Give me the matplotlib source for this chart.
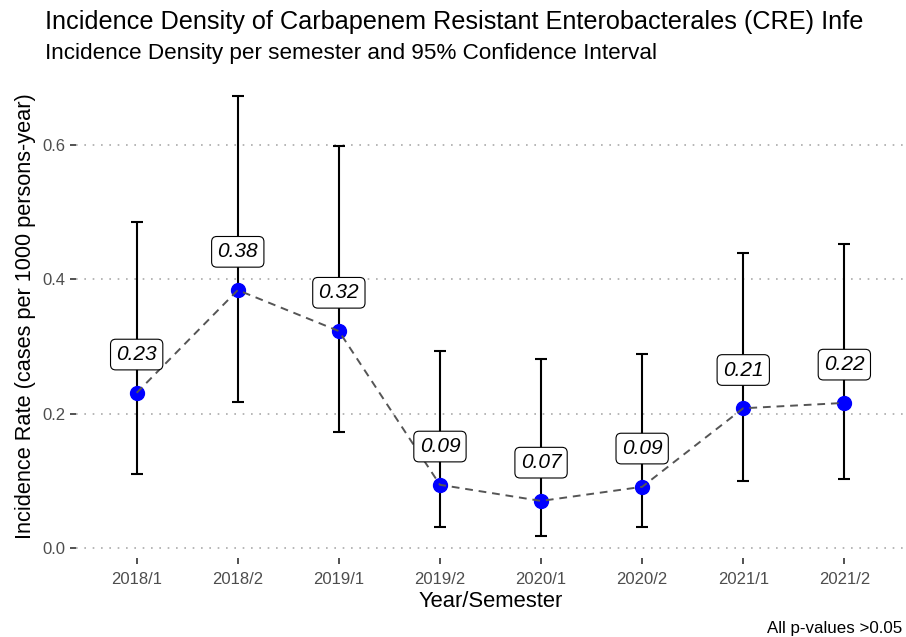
import matplotlib.pyplot as plt
import numpy as np

plt.rcParams['font.family'] = ['Liberation Sans', 'DejaVu Sans']

semesters = ['2018/1', '2018/2', '2019/1', '2019/2', '2020/1', '2020/2', '2021/1', '2021/2']
rate = [0.231, 0.384, 0.323, 0.094, 0.070, 0.091, 0.208, 0.216]
ci_low = [0.110, 0.217, 0.173, 0.031, 0.018, 0.031, 0.100, 0.103]
ci_high = [0.485, 0.673, 0.598, 0.293, 0.281, 0.289, 0.439, 0.453]
labels = ['0.23', '0.38', '0.32', '0.09', '0.07', '0.09', '0.21', '0.22']

x = np.arange(len(semesters))
rate = np.array(rate)
lo = rate - np.array(ci_low)
hi = np.array(ci_high) - rate

fig = plt.figure(figsize=(9.06, 6.37), dpi=100)
ax = fig.add_axes([0.0839, 0.124, 0.915, 0.760])

ax.errorbar(x, rate, yerr=[lo, hi], fmt='none', ecolor='black', elinewidth=1.5,
            capsize=4, capthick=1.5, zorder=2)
ax.scatter(x, rate, s=100, color='#0000FF', zorder=3)
ax.plot(x, rate, linestyle=(0, (4, 3)), color='#555555', linewidth=1.4, zorder=4)

for xi, yi, lab in zip(x, rate, labels):
    ax.text(xi, yi + 0.057, lab, ha='center', va='center', fontsize=15, style='italic',
            zorder=5, bbox=dict(boxstyle='round,pad=0.28,rounding_size=0.25',
                                fc='white', ec='black', lw=0.8))

ax.set_xlim(-0.6, len(semesters) - 0.4)
ax.set_ylim(-0.015, 0.706)
ax.set_xticks(x)
ax.set_xticklabels(semesters)
ax.set_yticks([0.0, 0.2, 0.4, 0.6])
ax.set_yticklabels(['0.0', '0.2', '0.4', '0.6'])
ax.tick_params(axis='both', colors='#333333', labelcolor='#4D4D4D', labelsize=12,
               length=4, width=1.2)
ax.tick_params(axis='x', pad=6)
ax.yaxis.grid(True, linestyle=(0, (1, 4)), color='#AAAAAA', linewidth=1.2)
ax.set_axisbelow(True)
for s in ax.spines.values():
    s.set_visible(False)

ax.set_xlabel('Year/Semester', fontsize=15.8, labelpad=3)
ax.set_ylabel('Incidence Rate (cases per 1000 persons-year)', fontsize=15.7, labelpad=5)

fig.text(0.05, 0.966, 'Incidence Density of Carbapenem Resistant Enterobacterales (CRE) Infe',
         fontsize=18.2, ha='left', va='center')
fig.text(0.05, 0.916, 'Incidence Density per semester and 95% Confidence Interval',
         fontsize=16.2, ha='left', va='center')
fig.text(0.996, 0.014, 'All p-values >0.05', fontsize=12.2, ha='right', va='center')

fig.savefig('out.png', dpi=100)
